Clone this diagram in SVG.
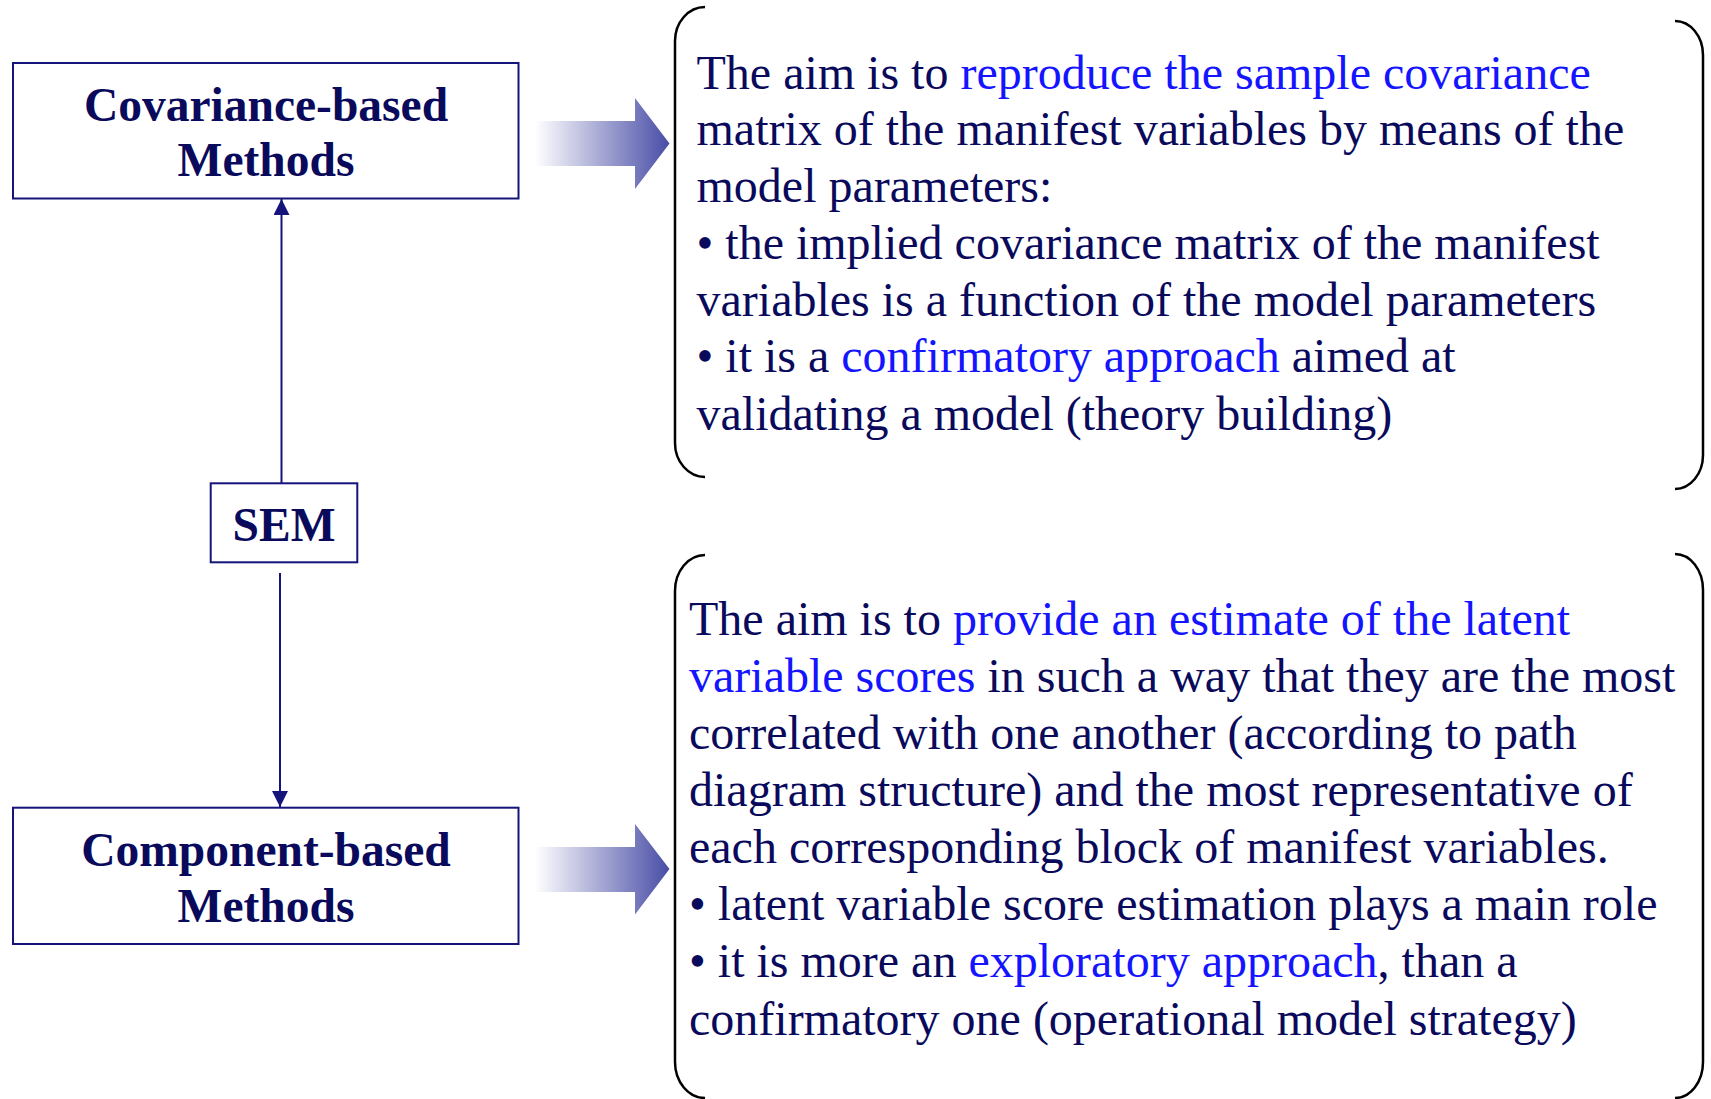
<svg xmlns="http://www.w3.org/2000/svg" width="1711" height="1099" viewBox="0 0 1711 1099">
<style>
.box{fill:#ffffff;stroke:#14147a;stroke-width:2}
.title{font-family:"Liberation Serif","Times New Roman",serif;font-weight:bold;font-size:47.5px;fill:#0a0a5c;text-anchor:middle}
.body{font-family:"Liberation Serif","Times New Roman",serif;font-size:48px;fill:#0a0a5c}
.hl{fill:#1414ff}
.brk{fill:none;stroke:#000000;stroke-width:2.5}
.conn{stroke:#14147a;stroke-width:2;fill:none}
</style>
<defs>
<marker id="ah" markerUnits="userSpaceOnUse" markerWidth="16" markerHeight="16" viewBox="0 0 16 16" refX="16" refY="8" orient="auto">
<path d="M0,0 L16,8 L0,16 Z" fill="#14147a"/>
</marker>
<linearGradient id="fade" gradientUnits="userSpaceOnUse" x1="535" y1="0" x2="669" y2="0">
<stop offset="0" stop-color="#ffffff"/>
<stop offset="1" stop-color="#4a4ea6"/>
</linearGradient>
<linearGradient id="fade2" gradientUnits="userSpaceOnUse" x1="535" y1="0" x2="669" y2="0">
<stop offset="0" stop-color="#ffffff"/>
<stop offset="1" stop-color="#4a4ea6"/>
</linearGradient>
</defs>

<g id="connectors">
<line class="conn" x1="281.5" y1="483" x2="281.5" y2="199" marker-end="url(#ah)"/>
<line class="conn" x1="280" y1="573" x2="280" y2="807" marker-end="url(#ah)"/>
<path d="M535,121 H635 V98 L669.5,143.5 L635,189 V166 H535 Z" fill="url(#fade)"/>
<path d="M535,847 H635 V824 L669.5,869 L635,914.5 V892 H535 Z" fill="url(#fade2)"/>
</g>

<g id="node-covariance">
<rect class="box" x="13" y="63" width="505.5" height="135.5"/>
<text class="title" x="266" y="120.5">Covariance-based</text>
<text class="title" x="266" y="176">Methods</text>
</g>

<g id="node-sem">
<rect class="box" x="210.7" y="483.3" width="146.6" height="79"/>
<text class="title" x="284" y="540.5">SEM</text>
</g>

<g id="node-component">
<rect class="box" x="13" y="807.7" width="505.5" height="136.3"/>
<text class="title" x="266" y="865.5">Component-based</text>
<text class="title" x="266" y="921.5">Methods</text>
</g>

<g id="node-covariance-desc">
<path class="brk" d="M705,7 A30,34 0 0 0 675,41 V443 A30,34 0 0 0 705,477"/>
<path class="brk" d="M1675,21 A28,34 0 0 1 1703,55 V455 A28,34 0 0 1 1675,489"/>
<text class="body" x="696.5" y="88.5">The aim is to <tspan class="hl">reproduce the sample covariance</tspan></text>
<text class="body" x="696.5" y="145">matrix of the manifest variables by means of the</text>
<text class="body" x="696.5" y="202">model parameters:</text>
<text class="body" x="696.5" y="258.5">• the implied covariance matrix of the manifest</text>
<text class="body" x="696.5" y="315.5">variables is a function of the model parameters</text>
<text class="body" x="696.5" y="372">• it is a <tspan class="hl">confirmatory approach</tspan> aimed at</text>
<text class="body" x="696.5" y="429.5">validating a model (theory building)</text>
</g>

<g id="node-component-desc">
<path class="brk" d="M705,555 A30,36 0 0 0 675,591 V1062 A30,36 0 0 0 705,1098"/>
<path class="brk" d="M1675,554 A28,36 0 0 1 1703,590 V1062 A28,36 0 0 1 1675,1098"/>
<text class="body" x="689" y="634.5">The aim is to <tspan class="hl">provide an estimate of the latent</tspan></text>
<text class="body" x="689" y="691.5"><tspan class="hl">variable scores</tspan> in such a way that they are the most</text>
<text class="body" x="689" y="748.5">correlated with one another (according to path</text>
<text class="body" x="689" y="805.5">diagram structure) and the most representative of</text>
<text class="body" x="689" y="862.5">each corresponding block of manifest variables.</text>
<text class="body" x="689" y="919.5">• latent variable score estimation plays a main role</text>
<text class="body" x="689" y="977">• it is more an <tspan class="hl">exploratory approach</tspan>, than a</text>
<text class="body" x="689" y="1035">confirmatory one (operational model strategy)</text>
</g>
</svg>
